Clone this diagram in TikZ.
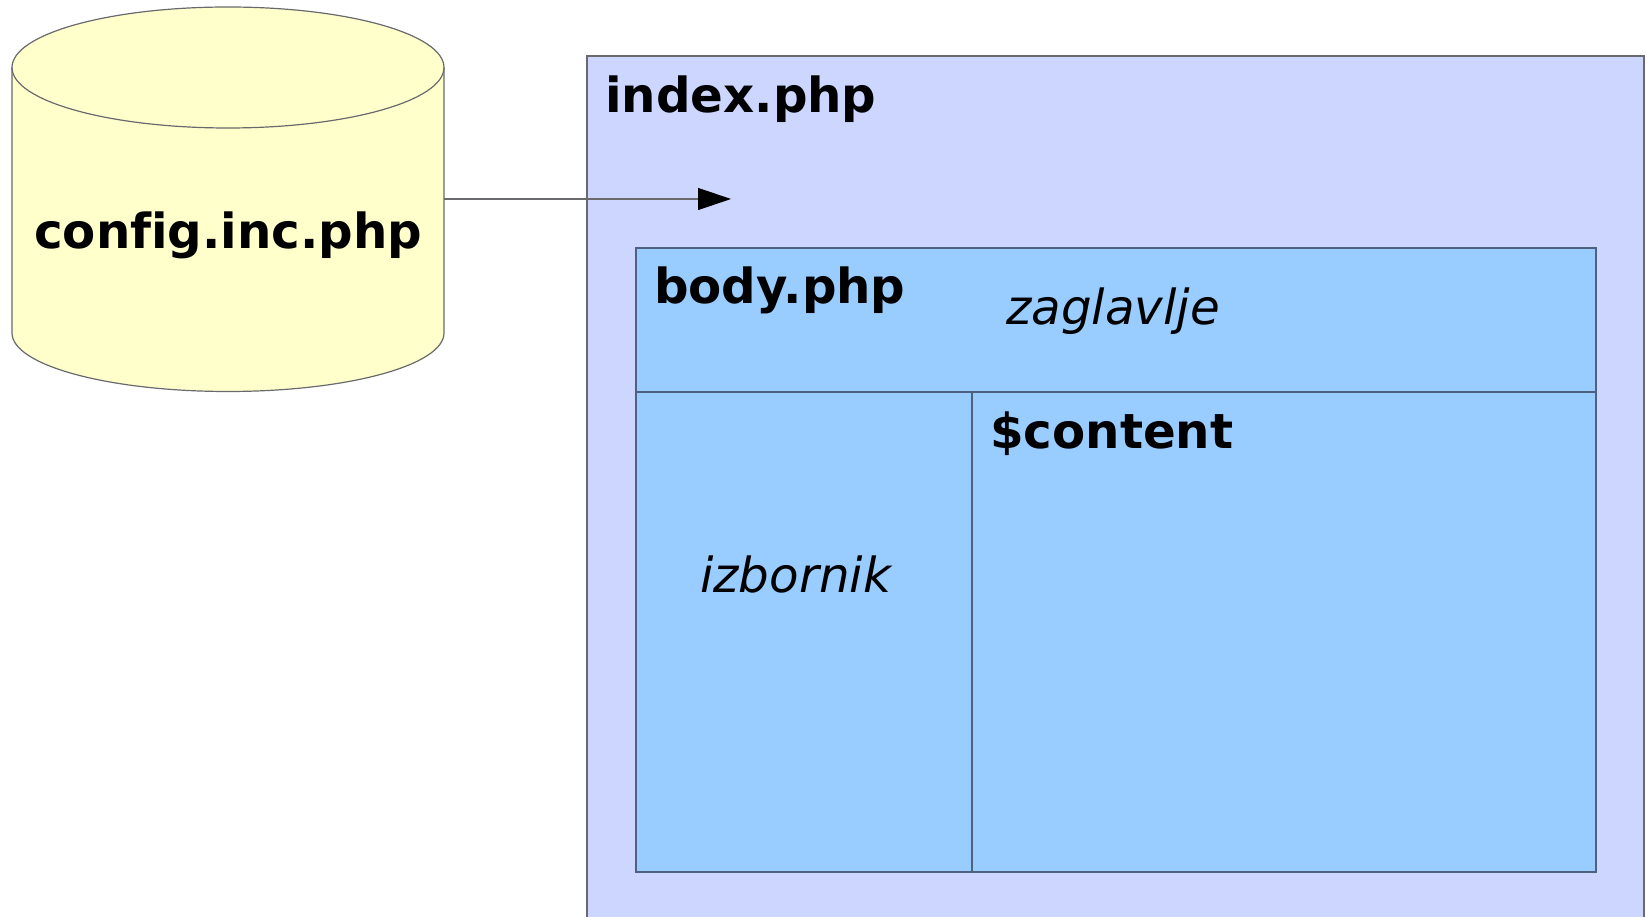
\documentclass[tikz,border=0pt]{standalone}
\usepackage{fontspec}
\setmainfont[Ligatures=NoCommon]{DejaVu Sans}
\usetikzlibrary{arrows.meta}
\definecolor{cylfill}{RGB}{255,255,204}
\definecolor{idxfill}{RGB}{204,214,255}
\definecolor{bodyfill}{RGB}{153,204,255}
\definecolor{grayline}{RGB}{105,105,110}
\definecolor{bodyline}{RGB}{78,98,128}
\newcommand{\labelsize}{\fontsize{48.3}{58}\selectfont}
\begin{document}
\begin{tikzpicture}[x=1pt,y=1pt,
  lbl/.style={inner sep=0pt,anchor=base west,font=\labelsize\bfseries},
  itl/.style={inner sep=0pt,anchor=base west,font=\labelsize\itshape}]
\useasboundingbox (0,0) rectangle (1646,916);
% 円柱 (config.inc.php)
\filldraw[fill=cylfill,draw=grayline,line width=1.2pt]
  (12,848.5) -- (12,583) arc[start angle=180,end angle=360,x radius=216,y radius=58.5]
  -- (444,848.5) arc[start angle=0,end angle=180,x radius=216,y radius=60.5] -- cycle;
\draw[grayline,line width=1.2pt] (12,848.5) arc[start angle=180,end angle=360,x radius=216,y radius=60.5];
\node[lbl] (cfg) at (34,667) {config.inc.php};
\coordinate (cylE) at (444,717);
% index.php
\filldraw[fill=idxfill,draw=grayline,line width=1.4pt] (587,-10) rectangle (1644,860);
\node[lbl] (idx) at (605,803) {index.php};
% 矢印
\coordinate (tip) at (731,717);
\draw[grayline,line width=1.2pt,-{Triangle[length=33pt,width=22pt,color=black]}] (cylE) -- (tip);
% body.php
\filldraw[fill=bodyfill,draw=bodyline,line width=1.6pt] (636,44) rectangle (1596,668);
\draw[bodyline,line width=1.6pt] (636,524) -- (1596,524);
\draw[bodyline,line width=1.6pt] (972,524) -- (972,44);
\node[lbl] (body) at (654,612) {body.php};
\node[itl] (head) at (1006,591) {zaglavlje};
\node[lbl] (cont) at (990,467) {\$content};
\node[itl] (menu) at (700,323) {izbornik};
\end{tikzpicture}
\end{document}
